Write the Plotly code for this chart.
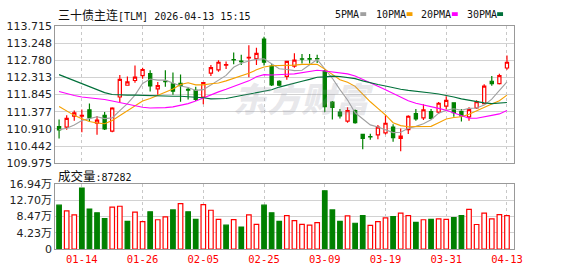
import plotly.graph_objects as go

# ---------------- data ----------------
title_text = "三十债主连[TLM] 2026-04-13 15:15"
dates = ["01-09", "01-12", "01-13", "01-14", "01-15", "01-16", "01-19", "01-20", "01-21", "01-22",
         "01-23", "01-26", "01-27", "01-28", "01-29", "01-30", "02-02", "02-03", "02-04", "02-05",
         "02-06", "02-09", "02-10", "02-11", "02-12", "02-13", "02-24", "02-25", "02-26", "02-27",
         "03-02", "03-03", "03-04", "03-05", "03-06", "03-09", "03-10", "03-11", "03-12", "03-13",
         "03-16", "03-17", "03-18", "03-19", "03-20", "03-23", "03-24", "03-25", "03-26", "03-27",
         "03-30", "03-31", "04-01", "04-02", "04-03", "04-07", "04-08", "04-09", "04-10", "04-13"]
label_dates = ["01-14", "01-26", "02-05", "02-25", "03-09", "03-19", "03-31", "04-13"]

opens = [110.97, 110.96, 111.26, 111.26, 111.43, 111.07, 111.28, 110.85, 111.78, 112.10,
         112.23, 112.36, 112.42, 112.00, 112.215, 112.14, 112.15, 111.99, 111.96, 111.78,
         112.43, 112.52, 112.645, 112.80, 112.757, 112.845, 112.83, 113.36, 112.62, 112.21,
         112.34, 112.62, 112.822, 112.825, 112.826, 112.49, 111.64, 111.37, 111.12, 111.41,
         110.76, 110.70, 110.75, 110.80, 110.96, 110.65, 110.89, 111.33, 111.21, 111.385,
         111.37, 111.53, 111.62, 111.385, 111.24, 111.48, 111.60, 112.21, 112.147, 112.571]
highs = [111.17, 111.28, 111.41, 111.44, 111.60, 111.26, 111.37, 111.50, 112.38, 112.34,
         112.64, 112.58, 112.51, 112.19, 112.51, 112.45, 112.39, 112.04, 112.06, 112.19,
         112.65, 112.78, 112.75, 112.99, 112.93, 113.19, 113.125, 113.42, 112.67, 112.235,
         112.77, 112.97, 112.95, 112.95, 112.93, 112.52, 111.67, 111.455, 111.50, 111.44,
         110.76, 110.78, 111.02, 111.28, 111.04, 110.92, 111.28, 111.455, 111.58, 111.455,
         111.645, 111.80, 111.62, 111.455, 111.50, 111.69, 112.13, 112.35, 112.416, 112.91]
lows = [110.65, 110.89, 111.13, 110.82, 111.11, 110.75, 110.88, 110.82, 111.63, 112.09,
        112.17, 112.28, 111.93, 111.84, 112.06, 111.84, 111.65, 111.71, 111.67, 111.58,
        112.35, 112.47, 112.54, 112.67, 112.65, 112.32, 112.65, 112.64, 112.08, 112.08,
        112.25, 112.58, 112.69, 112.69, 112.71, 111.37, 111.17, 111.195, 111.08, 111.05,
        110.355, 110.615, 110.63, 110.76, 110.56, 110.30, 110.77, 111.135, 111.15, 111.17,
        111.325, 111.44, 111.24, 111.11, 111.135, 111.455, 111.585, 112.09, 112.12, 112.52]
closes = [110.88, 111.195, 111.35, 111.28, 111.22, 111.15, 110.91, 111.48, 112.26, 112.19,
          112.32, 112.53, 112.08, 112.09, 112.20, 111.94, 112.09, 111.97, 111.715, 112.17,
          112.58, 112.727, 112.66, 112.79, 112.745, 112.86, 112.97, 112.727, 112.11, 112.10,
          112.753, 112.785, 112.812, 112.815, 112.818, 111.515, 111.50, 111.264, 111.41, 111.08,
          110.65, 110.69, 110.96, 111.065, 110.675, 110.715, 111.256, 111.18, 111.43, 111.195,
          111.61, 111.69, 111.351, 111.264, 111.438, 111.654, 112.078, 112.147, 112.364, 112.727]
prev_close_before_first = 111.02

volumes = [114600, 99600, 89300, 159400, 104600, 94700, 79700, 109200, 111700, 72200,
           96300, 71400, 97100, 76400, 83900, 102100, 118700, 97100, 77200, 116200,
           101300, 77200, 62300, 76800, 57300, 89300, 64400, 114600, 94700, 72200,
           87200, 74300, 64400, 62300, 69000, 152000, 102100, 72200, 86800, 67300,
           87200, 61500, 71400, 81400, 84700, 93800, 87200, 69700, 76400, 77200,
           78900, 77200, 82200, 87200, 103800, 64000, 93800, 78900, 89700, 87282]
latest_volume = 87282

ma5 = [110.89, 110.93, 111.02, 111.14, 111.19, 111.24, 111.19, 111.21, 111.41, 111.60,
       111.83, 112.15, 112.27, 112.24, 112.24, 112.17, 112.08, 112.04, 111.96, 111.98,
       112.11, 112.23, 112.37, 112.59, 112.70, 112.76, 112.81, 112.82, 112.68, 112.55,
       112.53, 112.50, 112.51, 112.65, 112.80, 112.55, 112.29, 111.98, 111.70, 111.35,
       111.18, 111.02, 110.96, 110.89, 110.81, 110.82, 110.93, 110.98, 111.05, 111.16,
       111.34, 111.42, 111.46, 111.42, 111.47, 111.48, 111.56, 111.72, 111.94, 112.19]
ma10 = [111.52, 111.40, 111.28, 111.19, 111.11, 111.07, 111.05, 111.14, 111.27, 111.39,
        111.54, 111.67, 111.74, 111.82, 111.92, 112.00, 112.12, 112.17, 112.11, 112.11,
        112.14, 112.16, 112.22, 112.29, 112.34, 112.43, 112.52, 112.60, 112.63, 112.63,
        112.64, 112.65, 112.67, 112.67, 112.67, 112.54, 112.39, 112.25, 112.18, 112.07,
        111.86, 111.65, 111.47, 111.29, 111.08, 111.00, 110.97, 110.97, 110.97, 110.98,
        111.08, 111.18, 111.22, 111.24, 111.31, 111.41, 111.49, 111.59, 111.68, 111.83]
ma20 = [111.93, 111.87, 111.82, 111.78, 111.76, 111.74, 111.71, 111.67, 111.63, 111.57,
        111.53, 111.50, 111.48, 111.48, 111.49, 111.51, 111.55, 111.60, 111.67, 111.76,
        111.84, 111.92, 111.99, 112.06, 112.14, 112.22, 112.33, 112.39, 112.38, 112.38,
        112.40, 112.41, 112.44, 112.48, 112.51, 112.49, 112.46, 112.42, 112.41, 112.35,
        112.25, 112.15, 112.07, 111.98, 111.88, 111.77, 111.68, 111.61, 111.57, 111.53,
        111.47, 111.42, 111.34, 111.27, 111.20, 111.20, 111.23, 111.28, 111.32, 111.41]
ma30 = [112.39, 112.31, 112.23, 112.15, 112.07, 111.97, 111.90, 111.85, 111.83, 111.83,
        111.83, 111.82, 111.82, 111.82, 111.81, 111.80, 111.80, 111.79, 111.78, 111.76,
        111.73, 111.73, 111.74, 111.78, 111.82, 111.86, 111.90, 111.94, 111.98, 112.05,
        112.11, 112.16, 112.21, 112.26, 112.32, 112.33, 112.35, 112.34, 112.31, 112.28,
        112.22, 112.16, 112.12, 112.08, 112.03, 111.99, 111.96, 111.94, 111.93, 111.89,
        111.86, 111.83, 111.78, 111.73, 111.69, 111.65, 111.62, 111.60, 111.61, 111.63]
ma_names = ["5PMA", "10PMA", "20PMA", "30PMA"]

price_ticks = [113.715, 113.248, 112.780, 112.313, 111.845, 111.377, 110.910, 110.442, 109.975]
vol_ticks = [0, 42350, 84700, 127050, 169400]
vol_tick_text = ["0", "4.23万", "8.47万", "12.70万", "16.94万"]

# ---------------- style ----------------
W, H = 578, 276
RED = "#ff0000"
GREEN = "#008000"
MA_COLORS = ["#a0a0a0", "#f5a000", "#ff00ff", "#00703a"]
GRID = "#d2d2d2"
BORDER = "#999999"
LABEL = "#222222"
MONO = "DejaVu Sans Mono, Liberation Mono, monospace"
CJK = "Noto Sans CJK SC"


def fx(p):
    return p / W


def fy(p):
    return 1 - p / H


x_dom = [fx(56), fx(522)]
x_rng = [-0.52, 59.91]

fig = go.Figure()

fig.add_trace(go.Candlestick(
    x=dates, open=opens, high=highs, low=lows, close=closes,
    increasing=dict(line=dict(color=RED, width=1.2), fillcolor="white"),
    decreasing=dict(line=dict(color=GREEN, width=1.2), fillcolor=GREEN),
    whiskerwidth=0, hoverinfo="skip", showlegend=False, xaxis="x", yaxis="y"))

for name, vals, col in zip(ma_names, [ma5, ma10, ma20, ma30], MA_COLORS):
    fig.add_trace(go.Scatter(x=dates, y=vals, mode="lines", name=name,
                             line=dict(color=col, width=1.1), hoverinfo="skip",
                             showlegend=False, xaxis="x", yaxis="y"))

prev = [prev_close_before_first] + closes[:-1]
up = [c >= p for c, p in zip(closes, prev)]
fig.add_trace(go.Bar(
    x=dates, y=volumes, width=0.6,
    marker=dict(color=["white" if u else GREEN for u in up],
                line=dict(color=[RED if u else GREEN for u in up], width=1.2)),
    hoverinfo="skip", showlegend=False, xaxis="x2", yaxis="y2"))

common_x = dict(domain=x_dom, type="category", range=x_rng, tickmode="array",
                tickvals=label_dates, showgrid=True, gridcolor="#c8c8c8",
                griddash="3px,3px", gridwidth=1, showline=True, mirror=True,
                linecolor=BORDER, linewidth=1, zeroline=False, ticks="",
                fixedrange=True)

fig.update_layout(
    width=W, height=H, margin=dict(l=0, r=0, t=0, b=0),
    paper_bgcolor="white", plot_bgcolor="white", boxgap=0.4,
    xaxis=dict(common_x, anchor="y", showticklabels=False,
               rangeslider=dict(visible=False)),
    xaxis2=dict(common_x, anchor="y2", showticklabels=True,
                tickfont=dict(family=MONO, size=10.5, color=RED)),
    yaxis=dict(domain=[fy(165), fy(21)], range=[109.9749, 113.7151],
               tickmode="array", tickvals=price_ticks,
               ticktext=["%.3f" % v for v in price_ticks],
               showgrid=True, gridcolor=GRID, gridwidth=1, zeroline=False,
               showline=True, mirror=True, linecolor=BORDER, linewidth=1,
               ticks="", tickfont=dict(family="DejaVu Sans", size=11, color=LABEL),
               fixedrange=True),
    yaxis2=dict(domain=[fy(255), fy(187)], range=[0, 169400.5],
                tickmode="array", tickvals=vol_ticks, ticktext=vol_tick_text,
                showgrid=True, gridcolor=GRID, gridwidth=1, zeroline=False,
                showline=True, mirror=True, linecolor=BORDER, linewidth=1,
                ticks="", tickfont=dict(family="DejaVu Sans, " + CJK, size=11, color=LABEL),
                fixedrange=True),
)

annotations = []
# watermark
annotations.append(dict(text="东方财富", x=fx(308), y=fy(96), xref="paper", yref="paper",
                        showarrow=False, xanchor="center", yanchor="middle",
                        font=dict(family=CJK, size=34, color="rgba(150,150,165,0.22)",
                                  weight=900, style="italic")))
# title
annotations.append(dict(
    text='<span style="font-family:%s;font-size:12px">三十债主连</span>[TLM] 2026-04-13 15:15' % CJK,
    x=fx(57), y=fy(9), xref="paper", yref="paper", showarrow=False,
    xanchor="left", yanchor="middle", font=dict(family=MONO, size=10, color="#111111")))
# volume label
annotations.append(dict(
    text='<span style="font-family:%s;font-size:12.5px">成交量</span>:%d' % (CJK, latest_volume),
    x=fx(57), y=fy(177.5), xref="paper", yref="paper", showarrow=False,
    xanchor="left", yanchor="middle", font=dict(family=MONO, size=10, color="#111111")))

# custom legend
legend_text_x = [338, 380, 426, 472]
legend_box_x = [366, 413, 459, 505]
shapes = []
for name, col, tx, bx in zip(ma_names, MA_COLORS, legend_text_x, legend_box_x):
    annotations.append(dict(text=name, x=fx(tx), y=fy(8.5), xref="paper", yref="paper",
                            showarrow=False, xanchor="left", yanchor="middle",
                            font=dict(family=MONO, size=10, color="#111111")))
    shapes.append(dict(type="rect", xref="paper", yref="paper",
                       x0=fx(bx), x1=fx(bx + 6), y0=fy(10.5), y1=fy(6.5),
                       fillcolor=col, line=dict(width=0)))

fig.update_layout(annotations=annotations, shapes=shapes)

fig.write_html("out.html")
